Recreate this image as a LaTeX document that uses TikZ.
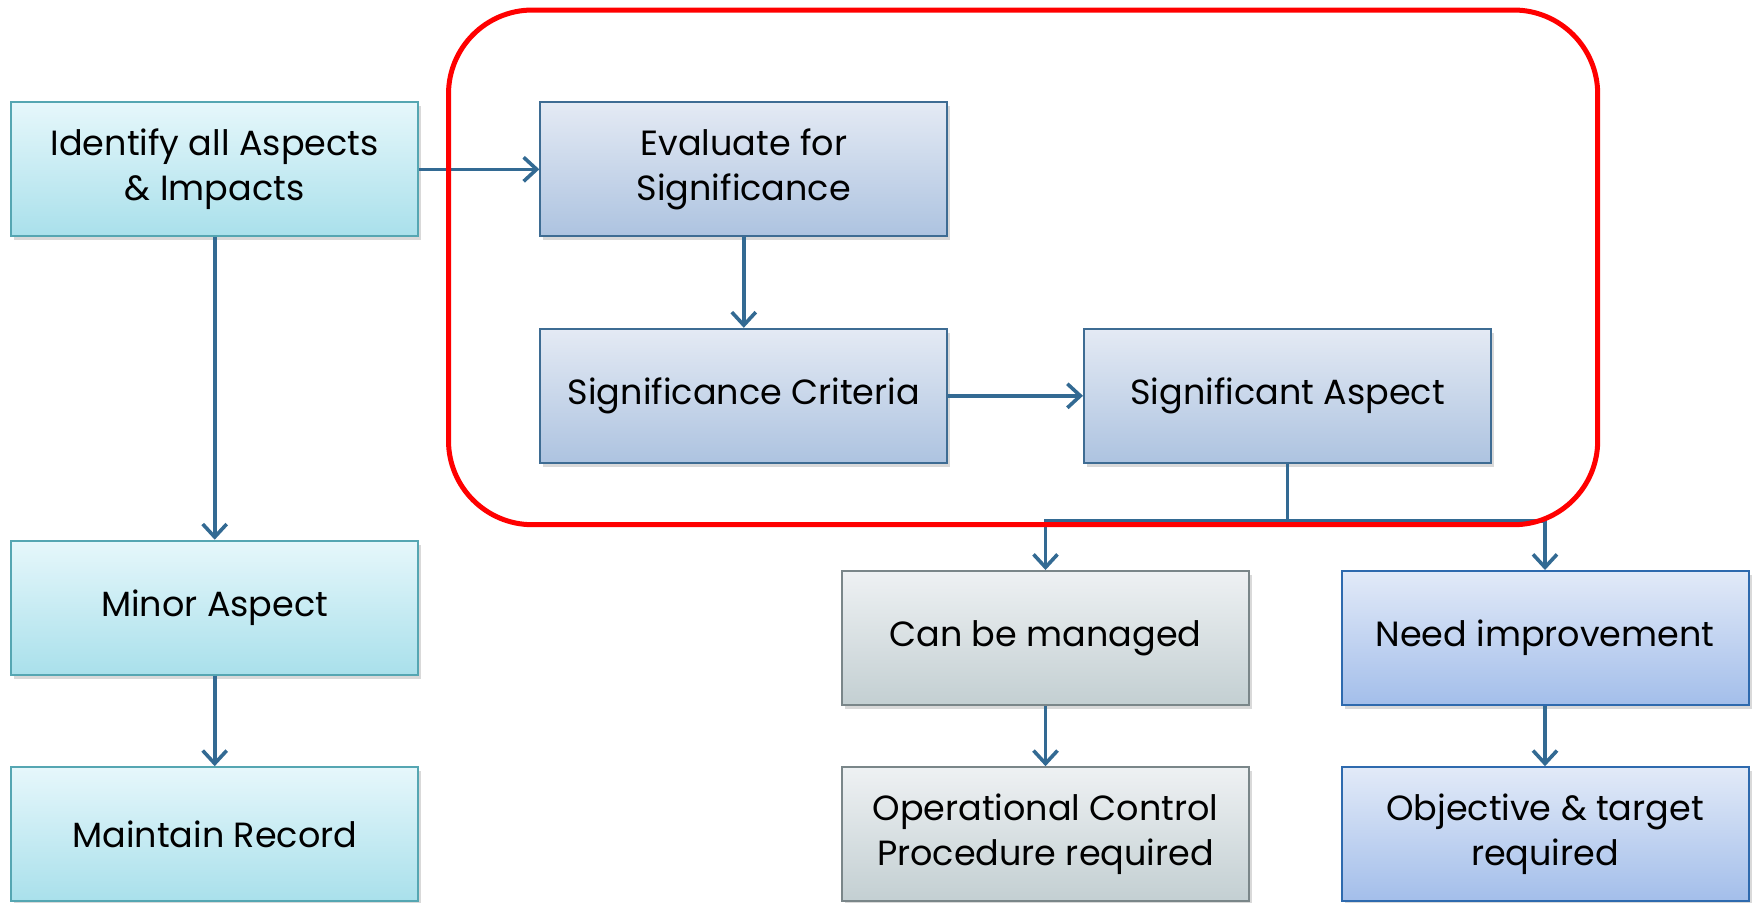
\documentclass[tikz,border=0pt]{standalone}
\usepackage{fontspec}
\setmainfont{Poppins}
\usetikzlibrary{arrows.meta,shadows}
\definecolor{cyantop}{HTML}{E6F7FB}
\definecolor{cyanbot}{HTML}{A9E0EB}
\definecolor{cyanline}{HTML}{55A6B2}
\definecolor{bluetop}{HTML}{E4EAF4}
\definecolor{bluebot}{HTML}{ADC3E0}
\definecolor{blueline}{HTML}{3E6C93}
\definecolor{graytop}{HTML}{EEF1F3}
\definecolor{graybot}{HTML}{C3CFD2}
\definecolor{grayline}{HTML}{7A8689}
\definecolor{imptop}{HTML}{E2EAF8}
\definecolor{impbot}{HTML}{A3BEEA}
\definecolor{impline}{HTML}{2E6AAE}
\definecolor{flowblue}{HTML}{336A93}
\definecolor{framered}{HTML}{FF0000}
\tikzset{
  box/.style = {draw, line width=1pt, minimum width=203.5pt, minimum height=67pt,
    align=center, font=\fontsize{17.5}{22.5}\selectfont,
    drop shadow={shadow xshift=1.5pt, shadow yshift=-2pt, opacity=0.3}},
  cyanbox/.style = {box, draw=cyanline, top color=cyantop, bottom color=cyanbot},
  bluebox/.style = {box, draw=blueline, top color=bluetop, bottom color=bluebot},
  graybox/.style = {box, draw=grayline, top color=graytop, bottom color=graybot},
  impbox/.style = {box, draw=impline, top color=imptop, bottom color=impbot},
  flowline/.style = {draw=flowblue, line width=1.8pt},
  flow/.style = {flowline, -{Straight Barb[length=6.5pt,width=12pt]}},
}
\begin{document}
\begin{tikzpicture}[x=0.5pt, y=-0.5pt]
	\useasboundingbox (0,0) rectangle (1758,902);
	% left column
	\node[cyanbox] (identify) at (214.7,169.3) {Identify all Aspects\\ \& Impacts};
	\node[cyanbox] (minor) at (214.7,607.7) {Minor Aspect};
	\node[cyanbox] (record) at (214.7,834.2) {Maintain Record};
	% evaluation
	\node[bluebox] (evaluate) at (743.8,169.3) {Evaluate for\\ Significance};
	\node[bluebox] (criteria) at (743.8,395.8) {Significance Criteria};
	\node[bluebox] (sigaspect) at (1287.5,395.8) {Significant Aspect};
	% outcomes
	\node[graybox] (managed) at (1045.5,638) {Can be managed};
	\node[graybox] (opcontrol) at (1045.5,834.2) {Operational Control\\ Procedure required};
	\node[impbox] (improve) at (1545,638) {Need improvement};
	\node[impbox] (objective) at (1545,834.2) {Objective \& target\\ required};
	\coordinate (split) at (1287.5,521);
	\draw[flow] (identify) -- (evaluate);
	\draw[flow] (identify) -- (minor);
	\draw[flow] (minor) -- (record);
	\draw[flow] (evaluate) -- (criteria);
	\draw[flow] (criteria) -- (sigaspect);
	\draw[flowline] (sigaspect) -- (split);
	\draw[flow] (split) -| (managed);
	\draw[flow] (split) -| (improve);
	\draw[flow] (managed) -- (opcontrol);
	\draw[flow] (improve) -- (objective);
	% frame
	\draw[framered, line width=2.5pt, rounded corners=42pt] (448.5,10) rectangle (1597.7,524.7);
\end{tikzpicture}
\end{document}
